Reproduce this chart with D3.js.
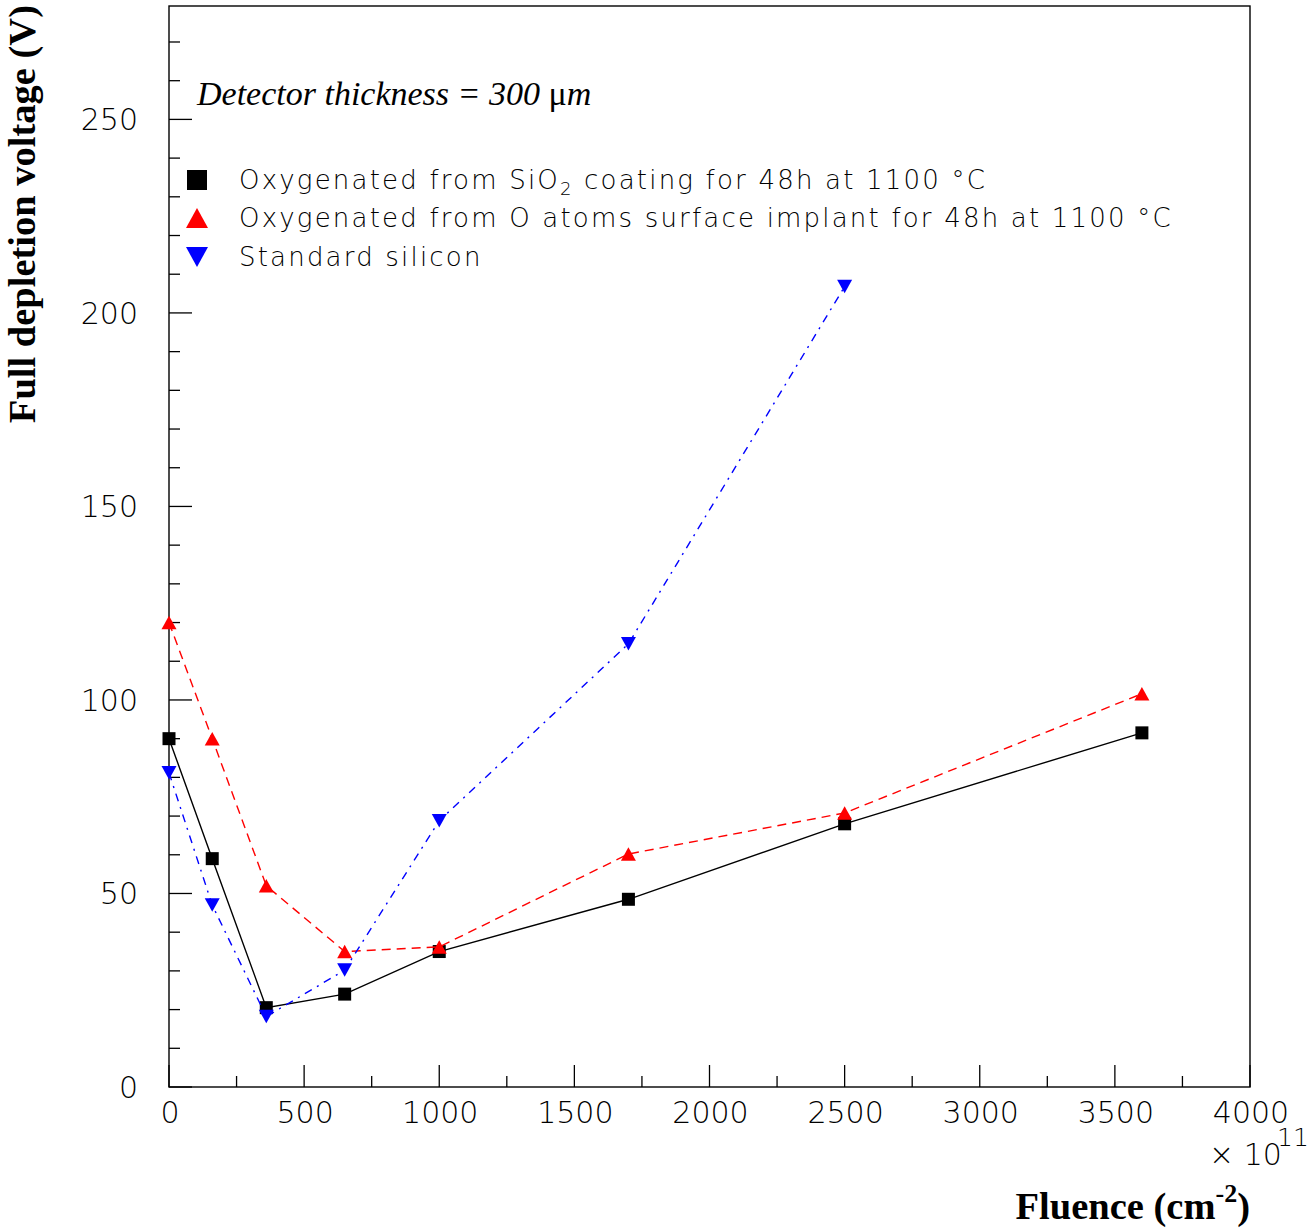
<!DOCTYPE html>
<html>
<head>
<meta charset="utf-8">
<script src="https://cdn.jsdelivr.net/npm/d3@7"></script>
<style>
  html, body { margin: 0; padding: 0; background: #fff; }
  svg { display: block; }
  .tick-label { font-family: "DejaVu Sans", sans-serif; font-weight: 200; font-size: 30px; fill: #000; }
  .legend-label { font-family: "DejaVu Sans", sans-serif; font-weight: 200; font-size: 26px; letter-spacing: 2.2px; fill: #000; }
  .axis-title { font-family: "Liberation Serif", "Times New Roman", serif; font-weight: bold; font-size: 38.5px; fill: #000; }
</style>
</head>
<body>
<script>
// Fluence in units of 1e11 cm^-2
const fluence = [0, 160, 360, 650, 1000, 1700, 2500, 3600];
// Full depletion voltage (V)
const sio2Coating = [90, 59, 20.5, 24, 35, 48.5, 68, 91.5];
const surfaceImplant = [120, 90, 52, 35, 36.2, 60.2, 70.8, 101.6];
const standardSi = [81.2, 47, 18.2, 30.2, 68.8, 114.5, 206.8];

const xTicks = [0, 500, 1000, 1500, 2000, 2500, 3000, 3500, 4000];
const yTicks = [0, 50, 100, 150, 200, 250];

const legendLabels = [
  "Oxygenated from SiO|2| coating for 48h at 1100 °C",
  "Oxygenated from O atoms surface implant for 48h at 1100 °C",
  "Standard silicon"
];

const W = 1311, H = 1230;
const plot = { left: 169, right: 1250, top: 6, bottom: 1087 };

const svg = d3.select("body").append("svg").attr("width", W).attr("height", H);

const x = d3.scaleLinear().domain([0, 4000]).range([plot.left, plot.right]);
const y = d3.scaleLinear().domain([0, 279.3]).range([plot.bottom, plot.top]);

// frame
svg.append("rect")
  .attr("x", plot.left).attr("y", plot.top)
  .attr("width", plot.right - plot.left).attr("height", plot.bottom - plot.top)
  .attr("fill", "none").attr("stroke", "#000").attr("stroke-width", 1.4);

// y axis: major ticks every 50, minor every 10, drawn inward
const yMinor = d3.range(0, 280, 10);
svg.append("g").selectAll("line").data(yMinor).join("line")
  .attr("x1", plot.left).attr("x2", d => plot.left + (d % 50 === 0 ? 23 : 11))
  .attr("y1", d => y(d)).attr("y2", d => y(d))
  .attr("stroke", "#000").attr("stroke-width", 1.3);

svg.append("g").selectAll("text").data(yTicks).join("text")
  .attr("class", "tick-label")
  .attr("x", 138).attr("y", d => y(d) + 11)
  .attr("text-anchor", "end")
  .text(d => d);

// x axis: major ticks every 500, minor every 250, drawn inward
const xMinor = d3.range(0, 4001, 250);
svg.append("g").selectAll("line").data(xMinor).join("line")
  .attr("x1", d => x(d)).attr("x2", d => x(d))
  .attr("y1", plot.bottom).attr("y2", d => plot.bottom - (d % 500 === 0 ? 22 : 11))
  .attr("stroke", "#000").attr("stroke-width", 1.3);

svg.append("g").selectAll("text").data(xTicks).join("text")
  .attr("class", "tick-label")
  .attr("x", d => x(d) + 1).attr("y", 1123)
  .attr("text-anchor", "middle")
  .text(d => d);

// exponent label
svg.append("text").attr("class", "tick-label").attr("x", 1209).attr("y", 1165).text("× 10");
svg.append("text").attr("class", "tick-label").attr("x", 1277).attr("y", 1146)
  .style("font-size", "25px").text("11");

// axis titles
const xt = svg.append("text").attr("class", "axis-title")
  .attr("x", plot.right).attr("y", 1219).attr("text-anchor", "end");
xt.append("tspan").text("Fluence (cm");
xt.append("tspan").attr("dy", -17).style("font-size", "26px").text("-2");
xt.append("tspan").attr("dy", 17).text(")");

svg.append("text").attr("class", "axis-title")
  .attr("transform", "translate(35,5) rotate(-90)")
  .attr("text-anchor", "end")
  .text("Full depletion voltage (V)");

// annotation
const note = svg.append("text")
  .attr("x", 197).attr("y", 105)
  .style("font-family", "'Liberation Serif', 'Times New Roman', serif")
  .style("font-style", "italic").style("font-size", "34px");
note.append("tspan").text("Detector thickness = 300 ");
note.append("tspan").style("font-style", "normal").text("μ");
note.append("tspan").text("m");

// marker shapes, centred on the data point
function markerPath(kind, s) {
  const h = s / 2;
  if (kind === "square") return `M${-h},${-h}H${h}V${h}H${-h}Z`;
  const th = s * 0.9 / 2;
  if (kind === "up") return `M0,${-th}L${h},${th}L${-h},${th}Z`;
  return `M0,${th}L${h},${-th}L${-h},${-th}Z`;
}

const series = [
  { name: "sio2", values: sio2Coating, color: "#000", dash: null, marker: "square", size: 13 },
  { name: "implant", values: surfaceImplant, color: "#ff0000", dash: "9,6", marker: "up", size: 15 },
  { name: "standard", values: standardSi, color: "#0000ff", dash: "8,6,2,6", marker: "down", size: 15 }
];

const line = d3.line().x(d => x(d[0])).y(d => y(d[1]));

series.forEach(s => {
  const pts = s.values.map((v, i) => [fluence[i], v]);
  svg.append("path")
    .attr("d", line(pts))
    .attr("fill", "none")
    .attr("stroke", s.color)
    .attr("stroke-width", 1.4)
    .attr("stroke-dasharray", s.dash);
  svg.append("g").selectAll("path").data(pts).join("path")
    .attr("transform", d => `translate(${x(d[0])},${y(d[1])})`)
    .attr("d", markerPath(s.marker, s.size))
    .attr("fill", s.color);
});

// legend
const legendRows = [180, 218, 257];
series.forEach((s, i) => {
  svg.append("path")
    .attr("transform", `translate(197,${legendRows[i]})`)
    .attr("d", markerPath(s.marker, s.marker === "square" ? 20 : 22))
    .attr("fill", s.color);
  const t = svg.append("text").attr("class", "legend-label")
    .attr("x", 239).attr("y", legendRows[i] + 9);
  const parts = legendLabels[i].split("|");
  parts.forEach((p, j) => {
    if (j % 2 === 1) {
      t.append("tspan").attr("dy", 6).style("font-size", "18px").text(p);
    } else {
      t.append("tspan").attr("dy", j > 0 ? -6 : 0).text(p);
    }
  });
});
</script>
</body>
</html>
